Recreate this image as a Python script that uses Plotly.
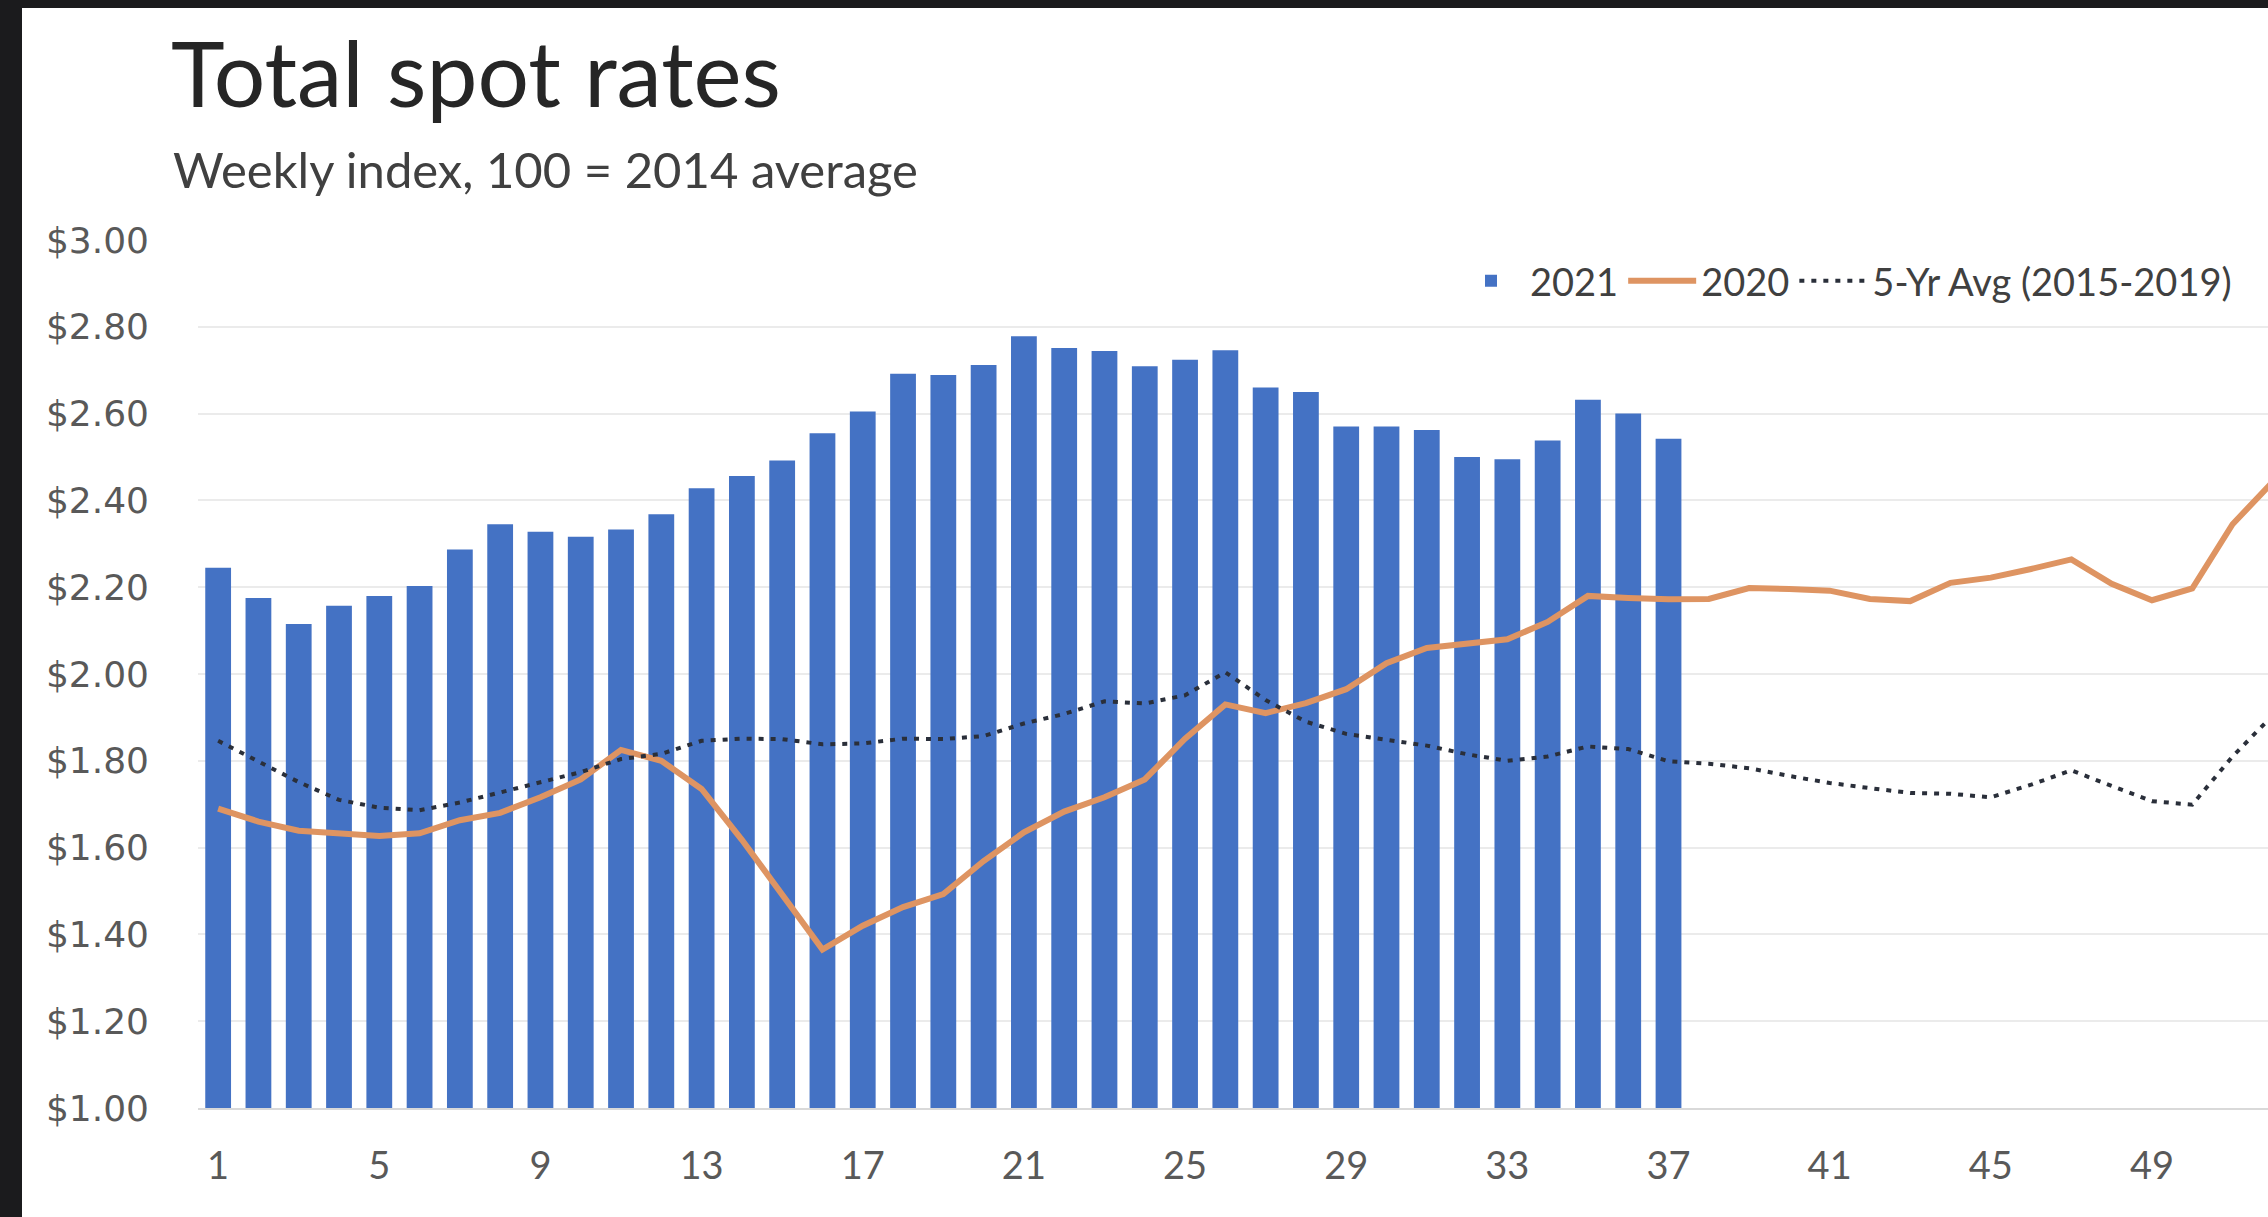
import plotly.graph_objects as go

# ---------------- data ----------------
weeks_2021 = list(range(1, 38))
rates_2021 = [2.245, 2.175, 2.115, 2.157, 2.180, 2.203, 2.287, 2.345, 2.328, 2.316,
              2.333, 2.368, 2.428, 2.456, 2.492, 2.555, 2.605, 2.692, 2.689, 2.712,
              2.778, 2.751, 2.744, 2.709, 2.724, 2.746, 2.660, 2.650, 2.570, 2.570,
              2.562, 2.500, 2.495, 2.538, 2.632, 2.600, 2.542]

weeks_all = list(range(1, 53))
rates_2020 = [1.690, 1.660, 1.639, 1.633, 1.627, 1.633, 1.663, 1.680, 1.716, 1.757,
              1.825, 1.800, 1.735, 1.618, 1.490, 1.365, 1.420, 1.463, 1.493, 1.569,
              1.635, 1.683, 1.716, 1.757, 1.851, 1.930, 1.910, 1.933, 1.965, 2.025,
              2.060, 2.070, 2.080, 2.120, 2.180, 2.175, 2.172, 2.173, 2.198, 2.196,
              2.192, 2.173, 2.168, 2.210, 2.222, 2.242, 2.264, 2.208, 2.170, 2.197,
              2.345, 2.443]
avg_5yr = [1.846, 1.798, 1.751, 1.710, 1.692, 1.686, 1.704, 1.727, 1.751, 1.774,
           1.804, 1.816, 1.846, 1.851, 1.850, 1.838, 1.840, 1.851, 1.850, 1.857,
           1.886, 1.908, 1.937, 1.932, 1.951, 2.004, 1.940, 1.890, 1.862, 1.848,
           1.835, 1.815, 1.800, 1.810, 1.833, 1.827, 1.799, 1.793, 1.783, 1.765,
           1.749, 1.737, 1.726, 1.724, 1.716, 1.745, 1.778, 1.742, 1.707, 1.699,
           1.810, 1.905]

x_ticks = list(range(1, 54, 4))
y_ticks = [1.0, 1.2, 1.4, 1.6, 1.8, 2.0, 2.2, 2.4, 2.6, 2.8, 3.0]
y_ticktext = ["$%.2f" % v for v in y_ticks]

title_text = "Total spot rates"
subtitle_text = "Weekly index, 100 = 2014 average"

# ---------------- layout constants ----------------
W, H = 2268, 1217
L, R, T, B = 198, 0, 240, 109
PW, PH = W - L - R, H - T - B


def px_x(p):
    return (p - L) / PW


def px_y(p):
    return (H - B - p) / PH


fig = go.Figure()
fig.add_trace(go.Bar(x=weeks_2021, y=rates_2021, name="2021",
                     marker=dict(color="#4472C4", line=dict(width=0))))
fig.add_trace(go.Scatter(x=weeks_all, y=rates_2020, name="2020", mode="lines",
                         line=dict(color="#DE9462", width=6)))
fig.add_trace(go.Scatter(x=weeks_all, y=avg_5yr, name="5-Yr Avg (2015-2019)", mode="lines",
                         line=dict(color="#2A2F3A", width=4, dash="5px,7px")))

fig.update_layout(
    width=W, height=H,
    margin=dict(l=L, r=R, t=T, b=B, pad=0),
    paper_bgcolor="white", plot_bgcolor="white",
    bargap=0.36,
    font=dict(family="Lato", color="#404040"),
    title=dict(text=title_text, x=171 / W, xanchor="left", xref="container",
               y=1 - 75 / H, yanchor="middle", yref="container",
               font=dict(family="Lato", size=91, color="#262626")),
    showlegend=True,
    legend=dict(orientation="h", x=px_x(1452), xanchor="left", y=px_y(281), yanchor="middle",
                font=dict(family="Lato", size=38, color="#404040"),
                itemwidth=68, bgcolor="rgba(0,0,0,0)", traceorder="normal"),
    xaxis=dict(range=[0.5, 51.88], tickvals=x_ticks, ticktext=[str(v) for v in x_ticks],
               showgrid=False, zeroline=False, showline=True, linecolor="#D9D9D9", linewidth=2,
               layer="below traces",
               tickfont=dict(family="Lato", size=38, color="#595959"),
               ticks="", ticklabelstandoff=23),
    yaxis=dict(range=[1.0, 3.0], tickvals=y_ticks, ticktext=y_ticktext,
               showgrid=True, gridcolor="#EBEBEB", gridwidth=2, zeroline=False, showline=False,
               tickfont=dict(family="DejaVu Sans", size=36, color="#595959"),
               ticks="", ticklabelstandoff=48),
)

fig.add_annotation(text=subtitle_text, xref="paper", yref="paper",
                   x=px_x(171), y=px_y(169), xanchor="left", yanchor="middle",
                   showarrow=False, font=dict(family="Lato", size=49, color="#404040"))

# dark photo frame on left and top edges
fig.add_shape(type="rect", xref="paper", yref="paper", x0=px_x(-50), x1=px_x(22),
              y0=px_y(1300), y1=px_y(-50), fillcolor="#1b1b1d", line=dict(width=0), layer="above")
fig.add_shape(type="rect", xref="paper", yref="paper", x0=px_x(-50), x1=px_x(2400),
              y0=px_y(8), y1=px_y(-50), fillcolor="#1b1b1d", line=dict(width=0), layer="above")

fig.write_html("out.html")
